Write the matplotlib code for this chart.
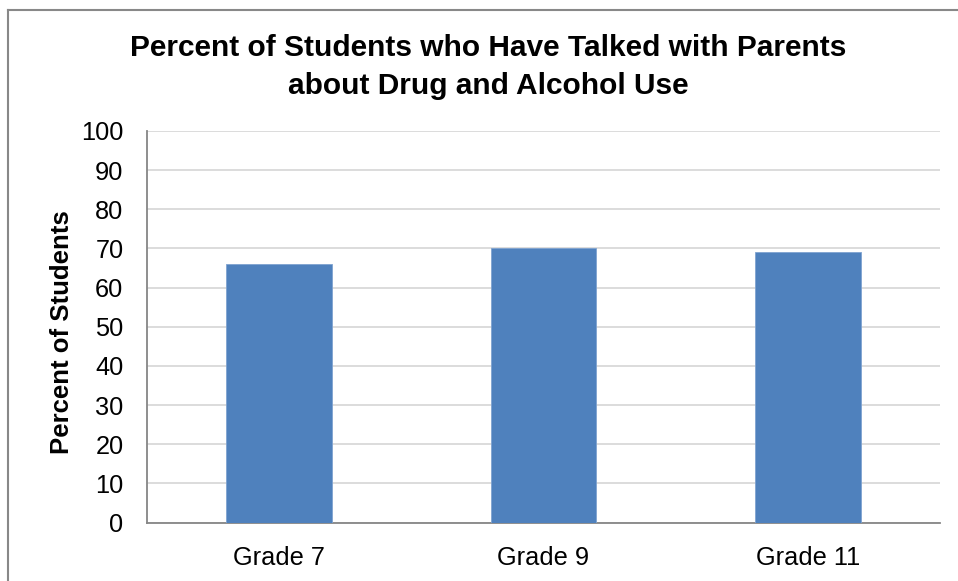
import matplotlib.pyplot as plt
from matplotlib.lines import Line2D

# データ
grades = ["Grade 7", "Grade 9", "Grade 11"]
percent = [66, 70, 69]
y_ticks = [0, 10, 20, 30, 40, 50, 60, 70, 80, 90, 100]

plt.rcParams['font.family'] = ['Liberation Sans', 'DejaVu Sans']

fig = plt.figure(figsize=(9.58, 5.81), dpi=100)
ax = fig.add_axes([147 / 958, 1 - 522.5 / 581, (940 - 147) / 958, (522.5 - 131) / 581])

x = range(len(grades))
ax.bar(x, percent, width=0.4, color='#4F81BD', edgecolor='#7FA3D0', linewidth=0.6, zorder=3)

ax.set_xlim(-0.5, len(grades) - 0.5)
ax.set_ylim(0, 100)
ax.set_yticks(y_ticks)
ax.set_xticks(list(x))
ax.set_xticklabels(grades)
ax.tick_params(axis='both', length=0, labelsize=18.3, colors='black')
ax.tick_params(axis='y', pad=17)
ax.tick_params(axis='x', pad=17)
ax.grid(axis='y', color='#D9D9D9', linewidth=1.3, zorder=0)

for side in ['top', 'right']:
    ax.spines[side].set_visible(False)
for side in ['left', 'bottom']:
    ax.spines[side].set_color('#868686')
    ax.spines[side].set_linewidth(1.3)

# タイトル
fig.text(488 / 958, 1 - 67 / 581,
         "Percent of Students who Have Talked with Parents\nabout Drug and Alcohol Use",
         ha='center', va='center', fontsize=21.5, fontweight='bold', linespacing=1.45)
fig.text(62 / 958, 1 - 332 / 581, "Percent of Students", rotation=90,
         ha='center', va='center', fontsize=18.5, fontweight='bold')

# 外枠
fig.add_artist(Line2D([8 / 958, 1.0], [1 - 10 / 581, 1 - 10 / 581],
                      transform=fig.transFigure, color='#888888', linewidth=1.5))
fig.add_artist(Line2D([8 / 958, 8 / 958], [0.0, 1 - 10 / 581],
                      transform=fig.transFigure, color='#888888', linewidth=1.5))

fig.savefig("out.png", dpi=100)
